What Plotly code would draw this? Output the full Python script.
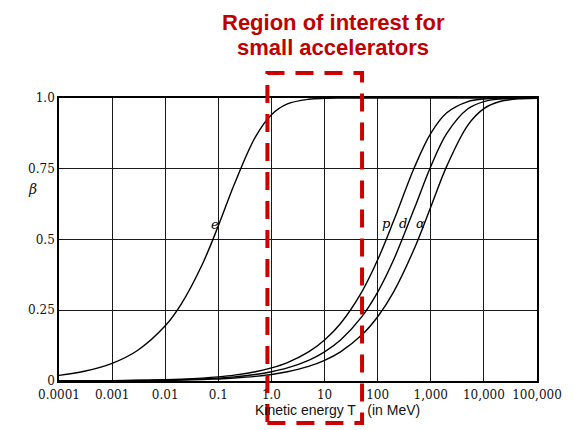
import plotly.graph_objects as go

# Kinetic energy T (MeV)
T = [0.0001, 0.0003, 0.001, 0.003, 0.01, 0.02, 0.05, 0.1, 0.2, 0.5, 1, 2, 5, 10,
     20, 50, 100, 200, 500, 1000, 2000, 5000, 10000, 20000, 50000, 100000]

beta_e = [0.0198, 0.0343, 0.0625, 0.1079, 0.195, 0.2719, 0.4127, 0.5482, 0.6953,
          0.8629, 0.9411, 0.9791, 0.9957, 0.9988, 0.9997, 0.99995, 1, 1, 1, 1, 1,
          1, 1, 1, 1, 1]
beta_p = [0.00046, 0.0008, 0.00146, 0.00253, 0.00462, 0.00653, 0.01032, 0.0146,
          0.02065, 0.03264, 0.04613, 0.06519, 0.10283, 0.14484, 0.20324, 0.31405,
          0.4282, 0.56617, 0.75791, 0.87502, 0.94765, 0.98744, 0.99631, 0.999,
          0.99983, 0.99996]
beta_d = [0.00033, 0.00057, 0.00103, 0.00179, 0.00327, 0.00462, 0.0073, 0.01033,
          0.0146, 0.02309, 0.03264, 0.04614, 0.07287, 0.10285, 0.14488, 0.2264,
          0.3141, 0.4283, 0.61372, 0.758, 0.87509, 0.96208, 0.98745, 0.99632,
          0.99935, 0.99983]
beta_a = [0.00023, 0.0004, 0.00073, 0.00127, 0.00232, 0.00328, 0.00518, 0.00733,
          0.01036, 0.01638, 0.02316, 0.03275, 0.05174, 0.0731, 0.10318, 0.16217,
          0.22709, 0.31505, 0.47177, 0.61507, 0.75925, 0.9042, 0.96243, 0.98759,
          0.99759, 0.99935]

x_tickvals = [0.0001, 0.001, 0.01, 0.1, 1, 10, 100, 1000, 10000, 100000]
x_ticktext = ["0.0001", "0.001", "0.01", "0.1", "1.0", "10", "100", "1,000",
              "10,000", "100,000"]
y_tickvals = [0, 0.25, 0.5, 0.75, 1.0]
y_ticktext = ["0", "0.25", "0.5", "0.75", "1.0"]

curve_labels = ["e", "p", "d", "α"]
label_logx = [-1.06, 2.16, 2.47, 2.80]
label_y = [0.553, 0.557, 0.557, 0.557]

fig = go.Figure()
for ys in [beta_e, beta_p, beta_d, beta_a]:
    fig.add_trace(go.Scatter(x=T, y=ys, mode="lines",
                             line=dict(color="black", width=1.4, shape="spline",
                                       smoothing=1.0),
                             showlegend=False, hoverinfo="skip"))

serif = "DejaVu Serif"
fig.update_layout(
    width=574, height=430,
    margin=dict(l=59, r=29, t=98, b=49),
    paper_bgcolor="white", plot_bgcolor="white",
    xaxis=dict(type="log", range=[-4, 5], tickvals=x_tickvals, ticktext=x_ticktext,
               showgrid=True, gridcolor="#1a1a1a", gridwidth=1.3,
               showline=True, linecolor="black", linewidth=1.6, mirror=True,
               ticks="", ticklabelstandoff=2,
               tickfont=dict(family=serif, size=12, color="#111"),
               zeroline=False),
    yaxis=dict(range=[0, 1.0], tickvals=y_tickvals, ticktext=y_ticktext,
               showgrid=True, gridcolor="#1a1a1a", gridwidth=1.3,
               showline=True, linecolor="black", linewidth=1.6, mirror=True,
               ticks="", tickfont=dict(family=serif, size=12, color="#111"),
               zeroline=False),
)

for txt, lx, ly in zip(curve_labels, label_logx, label_y):
    fig.add_annotation(x=lx, y=ly, xref="x", yref="y", text="<i>" + txt + "</i>",
                       showarrow=False,
                       font=dict(family=serif, size=13, color="black"),
                       xanchor="center", yanchor="middle")

# beta axis label
fig.add_annotation(x=-0.055, y=0.68, xref="paper", yref="paper", text="<i>β</i>",
                   showarrow=False, font=dict(family=serif, size=14, color="#111"),
                   xanchor="center", yanchor="middle")

# x axis title
fig.add_annotation(x=0.582, y=-0.102, xref="paper", yref="paper",
                   text="Kinetic energy T   (in MeV)", showarrow=False,
                   font=dict(family="Liberation Sans", size=14, color="#111"),
                   xanchor="center", yanchor="middle")

# title
red = "#C00000"
fig.add_annotation(x=0.574, y=1.268, xref="paper", yref="paper",
                   text="<b>Region of interest for</b>", showarrow=False,
                   font=dict(family="Liberation Sans", size=22, color=red),
                   xanchor="center", yanchor="middle")
fig.add_annotation(x=0.574, y=1.178, xref="paper", yref="paper",
                   text="<b>small accelerators</b>", showarrow=False,
                   font=dict(family="Liberation Sans", size=22, color=red),
                   xanchor="center", yanchor="middle")

# dashed region box
fig.add_shape(type="rect", xref="paper", yref="paper",
              x0=0.436, x1=0.634, y0=-0.148, y1=1.088,
              line=dict(color="#CC0000", width=4, dash="18px,11px"),
              fillcolor="rgba(0,0,0,0)", layer="above")

fig.write_html("out.html")
